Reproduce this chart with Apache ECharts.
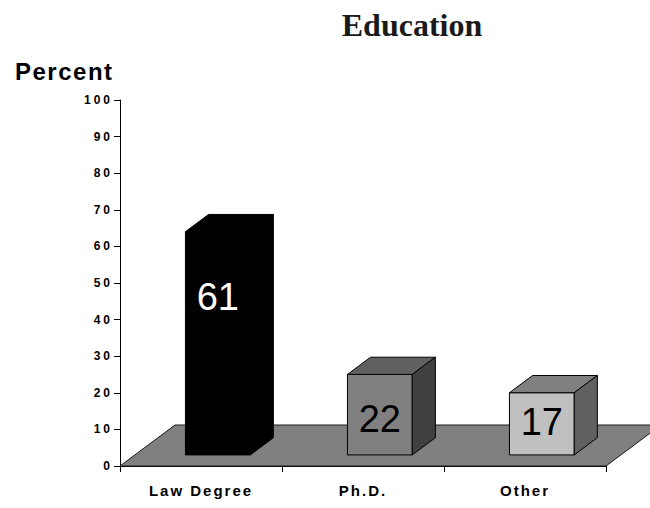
<!DOCTYPE html>
<html>
<head>
<meta charset="utf-8">
<script src="https://cdn.jsdelivr.net/npm/echarts@6/dist/echarts.min.js"></script>
<style>
  html, body { margin: 0; padding: 0; background: #ffffff; }
  #chart { width: 650px; height: 508px; }
  /* tracked lettering for the axis texts */
  #chart text[style*="12px"] { letter-spacing: 3px; }
  #chart text[style*="15px"] { letter-spacing: 2px; }
  #chart text[style*="24px"] { letter-spacing: 1.5px; }
</style>
</head>
<body>
<div id="chart"></div>
<script>
// ---- data ----
const categories = ['Law Degree', 'Ph.D.', 'Other'];
const percents = [61, 22, 17];
const yAxisMin = 0;
const yAxisMax = 100;
const yAxisStep = 10;
const chartTitle = 'Education';
const yAxisTitle = 'Percent';

// ---- styling ----
const faceColors = [
  { front: '#000000', top: '#000000', side: '#000000', label: '#ffffff' },
  { front: '#808080', top: '#606060', side: '#404040', label: '#000000' },
  { front: '#c0c0c0', top: '#808080', side: '#606060', label: '#000000' }
];
const labelRise = [0.715, 0.465, 0.567];   // label height as a share of the bar
const FLOOR_DEPTH = [55, -41];             // receding vector of the floor, px
const BAR_FRONT = 0.27;                    // bar front plane, share of floor depth
const BAR_BACK = 0.69;                     // bar back plane, share of floor depth
const BAR_WIDTH = 0.4;                     // share of the category band
const BAR_NUDGE = 2;
const SANS = '"Liberation Sans", Arial, sans-serif';
const SERIF = '"Liberation Serif", "Times New Roman", serif';

function renderFloor(params, api) {
  const bw = api.size([1, 0])[0];
  const a = api.coord([0, 0]);
  const b = api.coord([categories.length - 1, 0]);
  const xl = a[0] - bw / 2, xr = b[0] + bw / 2, y = a[1];
  const [dx, dy] = FLOOR_DEPTH;
  return {
    type: 'polygon',
    shape: { points: [[xl, y], [xr, y], [xr + dx, y + dy], [xl + dx, y + dy]] },
    style: { fill: '#808080', stroke: '#1a1a1a', lineWidth: 1 }
  };
}

function renderBar(params, api) {
  const i = api.value(0);
  const v = api.value(1);
  const base = api.coord([i, 0]);
  const top = api.coord([i, v]);
  const bw = api.size([1, 0])[0];
  const w = bw * BAR_WIDTH;
  const h = base[1] - top[1];
  const x0 = base[0] - w / 2 + BAR_FRONT * FLOOR_DEPTH[0] + BAR_NUDGE;
  const y0 = base[1] + BAR_FRONT * FLOOR_DEPTH[1];
  const x1 = x0 + w;
  const y1 = y0 - h;
  const dx = (BAR_BACK - BAR_FRONT) * FLOOR_DEPTH[0];
  const dy = (BAR_BACK - BAR_FRONT) * FLOOR_DEPTH[1];
  const c = faceColors[i];
  const edge = { stroke: '#000000', lineWidth: 1, lineJoin: 'round' };
  return {
    type: 'group',
    children: [
      { type: 'polygon', shape: { points: [[x0, y1], [x1, y1], [x1, y0], [x0, y0]] },
        style: Object.assign({ fill: c.front }, edge) },
      { type: 'polygon', shape: { points: [[x0, y1], [x0 + dx, y1 + dy], [x1 + dx, y1 + dy], [x1, y1]] },
        style: Object.assign({ fill: c.top }, edge) },
      { type: 'polygon', shape: { points: [[x1, y1], [x1 + dx, y1 + dy], [x1 + dx, y0 + dy], [x1, y0]] },
        style: Object.assign({ fill: c.side }, edge) },
      { type: 'text', x: (x0 + x1) / 2, y: y0 - h * labelRise[i] + 2,
        style: { text: String(v), fill: c.label, fontSize: 38, fontFamily: SANS,
                 align: 'center', verticalAlign: 'middle' } }
    ]
  };
}

const chart = echarts.init(document.getElementById('chart'), null, { renderer: 'svg' });
chart.setOption({
  animation: false,
  backgroundColor: '#ffffff',
  grid: { left: 120, right: 44, top: 100, bottom: 42 },
  graphic: [
    { type: 'text', x: 412, y: 25,
      style: { text: chartTitle, fontSize: 32, fontWeight: 'bold', fontFamily: SERIF, fill: '#1a1a1a',
               align: 'center', verticalAlign: 'middle', textAlign: 'center', textVerticalAlign: 'middle' } },
    { type: 'text', x: 15, y: 71,
      style: { text: yAxisTitle, fontSize: 24, fontWeight: 'bold', fontFamily: SANS, fill: '#000000',
               align: 'left', verticalAlign: 'middle', textAlign: 'left', textVerticalAlign: 'middle' } }
  ],
  xAxis: {
    type: 'category',
    data: categories,
    boundaryGap: true,
    axisLine: { show: true, lineStyle: { color: '#000000', width: 1 } },
    axisTick: { show: true, length: 6, alignWithLabel: false, lineStyle: { color: '#000000' } },
    axisLabel: { color: '#000000', fontSize: 15, fontWeight: 'bold', fontFamily: SANS, margin: 17 },
    splitLine: { show: false }
  },
  yAxis: {
    type: 'value',
    min: yAxisMin,
    max: yAxisMax,
    interval: yAxisStep,
    axisLine: { show: true, lineStyle: { color: '#000000', width: 1 } },
    axisTick: { show: true, length: 6, lineStyle: { color: '#000000' } },
    axisLabel: { color: '#000000', fontSize: 12, fontWeight: 'bold', fontFamily: SANS, margin: 7 },
    splitLine: { show: false }
  },
  series: [
    { type: 'custom', name: 'floor', renderItem: renderFloor, data: [[0]], z: 1, silent: true },
    { type: 'custom', name: 'Education', renderItem: renderBar,
      data: percents.map((v, i) => [i, v]), z: 2 }
  ]
});
</script>
</body>
</html>
